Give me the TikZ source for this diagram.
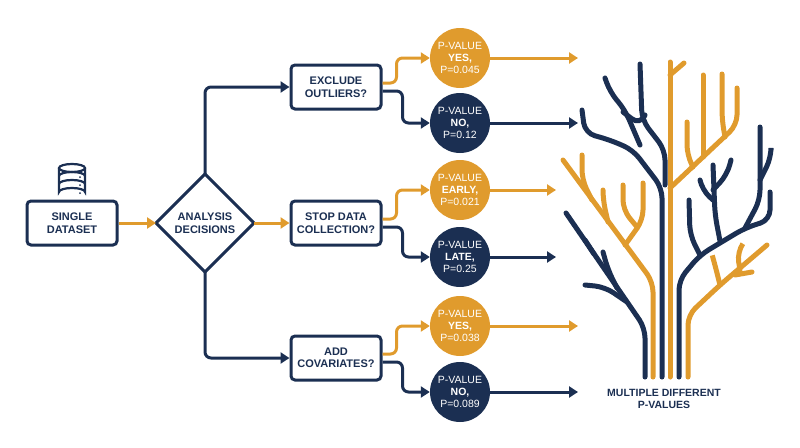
\documentclass[tikz,border=0pt]{standalone}
\usepackage{fontspec}
\setmainfont{Liberation Sans}
\usetikzlibrary{arrows.meta}
\begin{document}
\definecolor{navy}{HTML}{1B2F52}
\definecolor{gold}{HTML}{E09B2D}
\begin{tikzpicture}[x=1pt,y=-1pt,
 box/.style={draw=navy,line width=3pt,rounded corners=4pt,fill=white,minimum width=90pt,minimum height=44pt,align=center,font=\bfseries\fontsize{11}{12.5}\selectfont,text=navy},
 pv/.style={circle,minimum size=60pt,inner sep=0pt,align=center,text=white,font=\fontsize{10.5}{12}\selectfont},
 pvo/.style={pv,fill=gold},
 pvn/.style={pv,fill=navy},
 na/.style={draw=navy,line width=3pt,rounded corners=6pt,-{Triangle[length=9pt,width=11pt]}},
 oa/.style={draw=gold,line width=3pt,rounded corners=6pt,-{Triangle[length=9pt,width=11pt]}},
 tn/.style={draw=navy,line width=5pt,line cap=round,rounded corners=10pt},
 to/.style={draw=gold,line width=5pt,line cap=round,rounded corners=10pt}]
\useasboundingbox (0,0) rectangle (800,447);
% database icon
\begin{scope}[navy,line width=2.2pt]
\draw (59,168) -- (59,192) arc[start angle=180,end angle=360,x radius=13,y radius=4] -- (85,168);
\draw (72,168) ellipse[x radius=13,y radius=4];
\draw (59,176) arc[start angle=180,end angle=360,x radius=13,y radius=4];
\draw (59,184) arc[start angle=180,end angle=360,x radius=13,y radius=4];
\fill (80,177) circle (1pt) (80,185) circle (1pt) (80,193) circle (1pt);
\end{scope}
\node[box] (sd) at (72,223) {SINGLE\\DATASET};
\coordinate (dc) at (205,223);
\path[draw=navy,line width=3pt,fill=white,line join=round] (205,174) -- (254,223) -- (205,272) -- (156,223) -- cycle;
\coordinate (dt) at (205,174); \coordinate (db) at (205,272);
\coordinate (dl) at (156,223); \coordinate (dr) at (254,223);
\node[align=center,font=\bfseries\fontsize{11}{12.5}\selectfont,text=navy] at (dc) {ANALYSIS\\DECISIONS};
\node[box] (ex) at (336,87) {EXCLUDE\\OUTLIERS?};
\node[box] (st) at (336,223) {STOP DATA\\COLLECTION?};
\node[box] (ad) at (336,358) {ADD\\COVARIATES?};
\draw[oa] (sd.east) -- (dl);
\draw[oa] (dr) -- (st.west);
\draw[na] (dt) |- (ex.west);
\draw[na] (db) |- (ad.west);
% circles
\node[pvo] (c1) at (460,58) {P-VALUE\\\textbf{YES,}\\P=0.045};
\node[pvn] (c2) at (460,123) {P-VALUE\\\textbf{NO,}\\P=0.12};
\node[pvo] (c3) at (460,190) {P-VALUE\\\textbf{EARLY,}\\P=0.021};
\node[pvn] (c4) at (460,257) {P-VALUE\\\textbf{LATE,}\\P=0.25};
\node[pvo] (c5) at (460,326) {P-VALUE\\\textbf{YES,}\\P=0.038};
\node[pvn] (c6) at (460,392) {P-VALUE\\\textbf{NO,}\\P=0.089};
\foreach \b/\u/\d in {ex/c1/c2,st/c3/c4,ad/c5/c6}{
 \draw[oa] ([yshift=4pt]\b.east) -- ++(14,0) |- (\u.west);
 \draw[na] ([yshift=-4pt]\b.east) -- ++(20,0) |- (\d.west);
}
\coordinate (e1) at (578,58); \coordinate (e2) at (578,123);
\coordinate (e3) at (556,190); \coordinate (e4) at (556,257);
\coordinate (e5) at (578,326); \coordinate (e6) at (578,392);
\draw[oa] (c1.east) -- (e1); \draw[na] (c2.east) -- (e2);
\draw[oa] (c3.east) -- (e3); \draw[na] (c4.east) -- (e4);
\draw[oa] (c5.east) -- (e5); \draw[na] (c6.east) -- (e6);
% tree
\draw[tn] (645,377) -- (645,328) -- (566,213);
\draw[tn] (627,302) -- (605,287) -- (585,285);
\draw[tn] (617,288) -- (608,270) -- (603,252);
\draw[tn] (594,254) -- (585,240);
\draw[to] (653,377) -- (653,282) -- (563,160);
\draw[to] (625,245) -- (643,220) -- (643,183);
\draw[to] (637,227) -- (623,210) -- (623,185);
\draw[to] (592,200) -- (582,180) -- (582,155);
\draw[to] (608,222) -- (603,200) -- (603,190);
\draw[tn] (662,377) -- (662,188) -- (633,150) -- (610,140) -- (585,133) -- (582,110);
\draw[tn] (640,145) -- (625,110) -- (610,92) -- (605,78);
\draw[tn] (623,112) -- (640,125) -- (645,115);
\draw[tn] (665,185) -- (665,150) -- (642,120) -- (640,64);
\draw[to] (670,377) -- (670,62);
\draw[to] (670,188) -- (737,125) -- (737,88);
\draw[to] (703,157) -- (703,75);
\draw[to] (693,167) -- (687,155) -- (687,122);
\draw[to] (725,137) -- (722,120) -- (722,74);
\draw[to] (670,75) -- (684,63);
\draw[tn] (679,377) -- (679,280) -- (700,255) -- (745,228) -- (770,220) -- (770,192);
\draw[tn] (745,228) -- (760,200) -- (760,127);
\draw[tn] (760,180) -- (771,158) -- (771,150);
\draw[tn] (700,255) -- (690,235) -- (689,200);
\draw[tn] (720,241) -- (715,215) -- (713,165);
\draw[tn] (713,190) -- (727,175) -- (731,160);
\draw[tn] (713,200) -- (702,190) -- (700,180);
\draw[to] (688,377) -- (688,315) -- (720,285) -- (767,245);
\draw[to] (720,285) -- (715,265) -- (713,258);
\draw[to] (740,270) -- (737,252) -- (742,245);
\draw[to] (735,275) -- (752,272);
\node[align=center,font=\bfseries\fontsize{10.5}{12}\selectfont,text=navy] (lbl) at (664,399) {MULTIPLE DIFFERENT\\P-VALUES};
\end{tikzpicture}
\end{document}
